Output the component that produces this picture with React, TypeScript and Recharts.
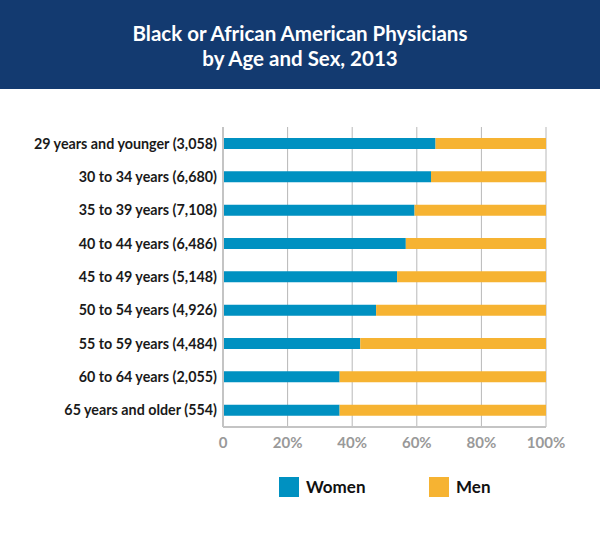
import React from 'react';
import { BarChart, Bar, XAxis, YAxis, CartesianGrid } from 'recharts';

const ageGroups = [
  '29 years and younger (3,058)',
  '30 to 34 years (6,680)',
  '35 to 39 years (7,108)',
  '40 to 44 years (6,486)',
  '45 to 49 years (5,148)',
  '50 to 54 years (4,926)',
  '55 to 59 years (4,484)',
  '60 to 64 years (2,055)',
  '65 years and older (554)',
];
const womenPct = [65.8, 64.4, 59.3, 56.6, 53.9, 47.4, 42.5, 36.1, 36.1];
const menPct = [34.2, 35.6, 40.7, 43.4, 46.1, 52.6, 57.5, 63.9, 63.9];
const xTicks = [0, 20, 40, 60, 80, 100];

const seriesNames = ['Women', 'Men'];
const seriesColors = ['#0091c1', '#f6b332'];

const data = ageGroups.map((g, i) => ({ group: g, women: womenPct[i], men: menPct[i] }));

const font = 'Lato, "Open Sans", sans-serif';

const App = () => {
  return (
    <div style={{ position: 'fixed', left: 0, top: 0, width: 600, height: 533, background: '#fff', fontFamily: font }}>
      <div
        style={{
          position: 'absolute',
          left: 0,
          top: 0,
          width: 600,
          height: 89,
          background: '#133a70',
          color: '#fff',
          fontWeight: 700,
          fontSize: 20.5,
          lineHeight: '25px',
          textAlign: 'center',
          paddingTop: 21,
          boxSizing: 'border-box',
        }}
      >
        Black or African American Physicians
        <br />
        by Age and Sex, 2013
      </div>
      <div style={{ position: 'absolute', left: 0, top: 0 }}>
        <BarChart
          width={600}
          height={533}
          data={data}
          layout='vertical'
          margin={{ top: 127, right: 54, left: 0, bottom: 76 }}
          barCategoryGap={0}
        >
          <CartesianGrid horizontal={false} stroke='#b8b8b8' strokeWidth={1} />
          <XAxis
            type='number'
            domain={[0, 100]}
            ticks={xTicks}
            tickFormatter={(v) => (v === 0 ? '0' : v + '%')}
            tickLine={false}
            axisLine={{ stroke: '#c4c4c4', strokeWidth: 2 }}
            tickMargin={4}
            height={30}
            tick={{ fill: '#999999', fontSize: 15, fontWeight: 700, fontFamily: font }}
          />
          <YAxis
            type='category'
            dataKey='group'
            width={223}
            tickLine={false}
            tickMargin={0}
            axisLine={{ stroke: '#c4c4c4', strokeWidth: 2 }}
            interval={0}
            tick={{ fill: '#1a1a1a', fontSize: 14.3, fontWeight: 700, fontFamily: font }}
          />
          <Bar dataKey='women' stackId='a' fill={seriesColors[0]} barSize={11} isAnimationActive={false} />
          <Bar dataKey='men' stackId='a' fill={seriesColors[1]} barSize={11} isAnimationActive={false} />
        </BarChart>
      </div>
      <div style={{ position: 'absolute', top: 476, left: 279, display: 'flex' }}>
        {seriesNames.map((name, i) => (
          <div key={name} style={{ display: 'flex', alignItems: 'center', width: 150 }}>
            <div style={{ width: 20, height: 20, background: seriesColors[i], marginRight: 7 }} />
            <span style={{ fontSize: 17, fontWeight: 700, color: '#111' }}>{name}</span>
          </div>
        ))}
      </div>
    </div>
  );
};

export default App;
